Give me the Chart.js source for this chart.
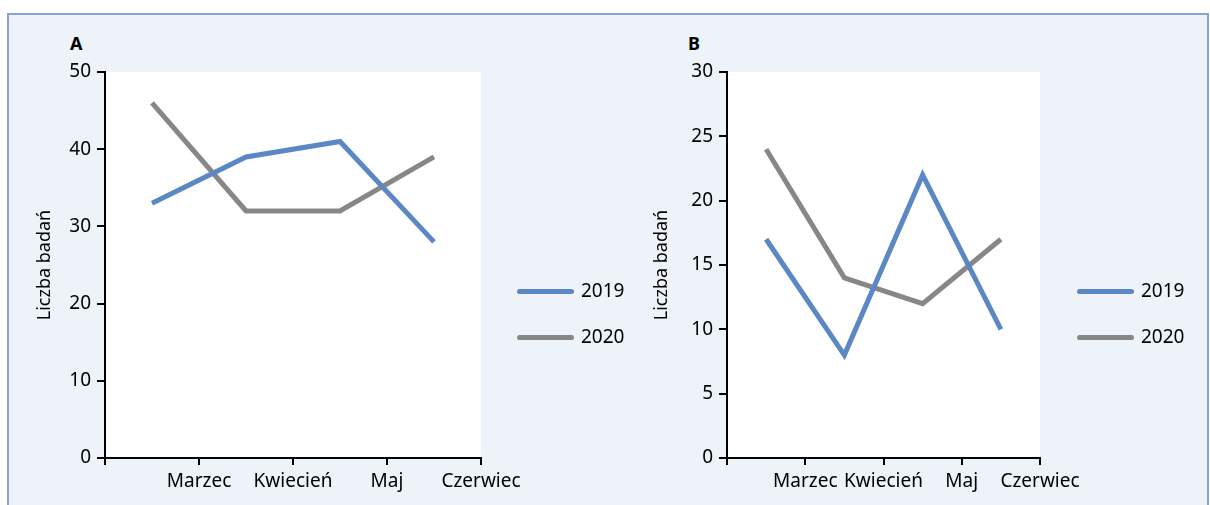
<!DOCTYPE html>
<html>
<head>
<meta charset="utf-8">
<script src="https://cdn.jsdelivr.net/npm/chart.js@4.4.1/dist/chart.umd.min.js"></script>
<style>
  body { margin: 0; width: 1210px; height: 505px; background: #fff; position: relative; overflow: hidden; font-family: "Noto Sans", sans-serif; }
  #panel { position: absolute; left: 7px; top: 13px; width: 1198px; height: 500px; background: #eef2f9; border: 2px solid #86a4d4; border-bottom: none; }
  canvas { position: absolute; top: 0; }
  .letter { position: absolute; top: 31px; font-weight: bold; font-size: 18px; color: #000; }
  .legend { position: absolute; font-size: 19px; color: #000; }
  .legend div { position: relative; height: 46px; }
  .legend span.line { position: absolute; left: 0; top: 10px; width: 57px; height: 5px; border-radius: 3px; }
  .legend span.txt { position: absolute; left: 64px; top: -2px; }
</style>
</head>
<body>
<div id="panel"></div>
<div class="letter" style="left:70px">A</div>
<div class="letter" style="left:688px">B</div>
<canvas id="chartA" width="640" height="505" style="left:0"></canvas>
<canvas id="chartB" width="590" height="505" style="left:620px"></canvas>
<div class="legend" id="legendA" style="left:517px; top:279px"></div>
<div class="legend" id="legendB" style="left:1077px; top:279px"></div>
<script>
var categories = ['Marzec', 'Kwiecień', 'Maj', 'Czerwiec'];
var seriesNames = ['2019', '2020'];
var seriesColors = ['#5b88c4', '#878787'];

// panel A
var badaniaA2019 = [33, 39, 41, 28];
var badaniaA2020 = [46, 32, 32, 39];
var yTicksA = [0, 10, 20, 30, 40, 50];

// panel B
var badaniaB2019 = [17, 8, 22, 10];
var badaniaB2020 = [24, 14, 12, 17];
var yTicksB = [0, 5, 10, 15, 20, 25, 30];

var yTitle = 'Liczba badań';

// white plot area behind the lines
var plotBg = {
    id: 'plotBg',
    beforeDraw: function(chart) {
        var a = chart.chartArea;
        var ctx = chart.ctx;
        ctx.save();
        ctx.fillStyle = '#ffffff';
        ctx.fillRect(a.left, a.top, a.right - a.left, a.bottom - a.top);
        ctx.restore();
    }
};

function toPoints(values) {
    // points sit in the middle of each month slot
    return values.map(function(v, i) { return { x: i + 0.5, y: v }; });
}

function drawPanel(canvasId, series, yTicks, yAxisWidth, rightPad, titlePad) {
    var ctx = document.getElementById(canvasId).getContext('2d');
    var font = { family: '"Noto Sans", sans-serif', size: 19 };
    return new Chart(ctx, {
        type: 'line',
        data: {
            datasets: series.map(function(values, k) {
                return {
                    label: seriesNames[k],
                    data: toPoints(values),
                    borderColor: seriesColors[k],
                    backgroundColor: seriesColors[k],
                    borderWidth: 5,
                    pointRadius: 0,
                    tension: 0,
                    fill: false
                };
            })
        },
        options: {
            responsive: false,
            animation: false,
            layout: { padding: { top: 72, right: rightPad, bottom: 0, left: 0 } },
            plugins: { legend: { display: false }, tooltip: { enabled: false } },
            scales: {
                x: {
                    type: 'linear',
                    min: 0,
                    max: categories.length,
                    afterFit: function(s) { s.height = 47; },
                    ticks: {
                        stepSize: 1,
                        autoSkip: false,
                        maxRotation: 0,
                        padding: 5,
                        color: '#000',
                        font: font,
                        callback: function(v) { return categories[v - 1] || ''; }
                    },
                    grid: { drawOnChartArea: false, tickLength: 7, color: '#000', lineWidth: 2 },
                    border: { color: '#000', width: 2 }
                },
                y: {
                    min: yTicks[0],
                    max: yTicks[yTicks.length - 1],
                    afterFit: function(s) { s.width = yAxisWidth; },
                    ticks: {
                        stepSize: yTicks[1] - yTicks[0],
                        padding: 6,
                        color: '#000',
                        font: font
                    },
                    grid: { drawOnChartArea: false, tickLength: 8, color: '#000', lineWidth: 2 },
                    border: { color: '#000', width: 2 },
                    title: {
                        display: true,
                        text: yTitle,
                        color: '#000',
                        font: { family: '"Noto Sans", sans-serif', size: 18 },
                        padding: { top: titlePad, bottom: 0 }
                    }
                }
            }
        },
        plugins: [plotBg]
    });
}

function buildLegend(id) {
    var box = document.getElementById(id);
    seriesNames.forEach(function(name, k) {
        var row = document.createElement('div');
        row.innerHTML = '<span class="line" style="background:' + seriesColors[k] + '"></span><span class="txt">' + name + '</span>';
        box.appendChild(row);
    });
}

drawPanel('chartA', [badaniaA2019, badaniaA2020], yTicksA, 105, 159, 34);
drawPanel('chartB', [badaniaB2019, badaniaB2020], yTicksB, 107, 170, 31);
buildLegend('legendA');
buildLegend('legendB');
</script>
</body>
</html>
